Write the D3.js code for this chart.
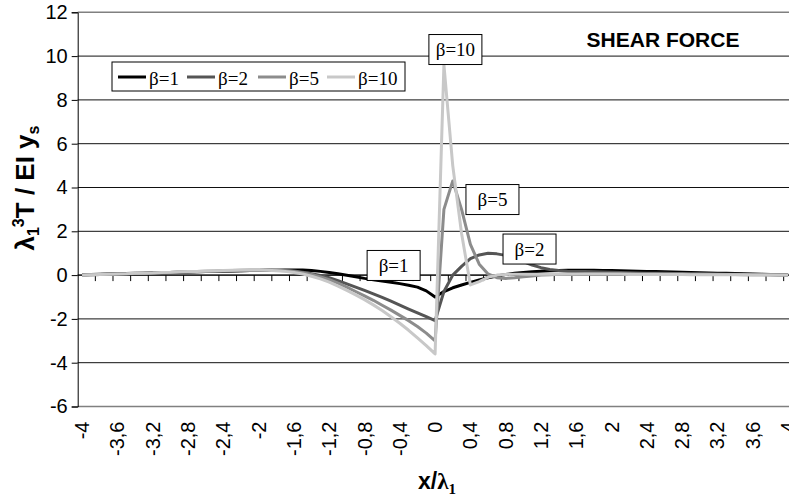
<!DOCTYPE html>
<html lang="en">
<head>
<meta charset="UTF-8">
<title>Shear force</title>
<style>
  body{margin:0;background:#fff;}
  svg{display:block;}
  text{font-family:Arial, "Liberation Sans", sans-serif;}
  .serif{font-family:"Times New Roman", "Liberation Serif", serif;}
</style>
</head>
<body>
<script src="https://cdn.jsdelivr.net/npm/d3@7"></script>
<script>
// categories x/lambda1 (Excel category axis)
const categories = [
  -4.0,-3.9,-3.8,-3.7,-3.6,-3.5,-3.4,-3.3,-3.2,-3.1,
  -3.0,-2.9,-2.8,-2.7,-2.6,-2.5,-2.4,-2.3,-2.2,-2.1,
  -2.0,-1.9,-1.8,-1.7,-1.6,-1.5,-1.4,-1.3,-1.2,-1.1,
  -1.0,-0.9,-0.8,-0.7,-0.6,-0.5,-0.4,-0.3,-0.2,-0.1,
  0.0,
  0.1,0.2,0.3,0.4,0.5,0.6,0.7,0.8,0.9,1.0,
  1.1,1.2,1.3,1.4,1.5,1.6,1.7,1.8,1.9,2.0,
  2.1,2.2,2.3,2.4,2.5,2.6,2.7,2.8,2.9,3.0,
  3.1,3.2,3.3,3.4,3.5,3.6,3.7,3.8,3.9,4.0
];
const tickLabels = ["-4","-3,6","-3,2","-2,8","-2,4","-2","-1,6","-1,2","-0,8","-0,4","0",
                    "0,4","0,8","1,2","1,6","2","2,4","2,8","3,2","3,6","4"];
const yTicks = [-6,-4,-2,0,2,4,6,8,10,12];
const yTickLabels = ["-6","-4","-2","0","2","4","6","8","10","12"];

const beta1 = [
  0.02,0.03,0.04,0.05,0.06,0.07,0.08,0.09,0.10,0.11,
  0.12,0.13,0.14,0.15,0.16,0.17,0.18,0.19,0.20,0.21,
  0.21,0.22,0.22,0.23,
  0.23,0.23,0.21,0.17,0.12,0.06,-0.01,-0.08,-0.15,-0.21,-0.27,-0.33,-0.39,-0.46,-0.55,-0.72,-1.0,
  -0.75,-0.58,-0.45,-0.33,-0.22,-0.12,-0.04,0.03,0.08,0.12,
  0.15,0.18,0.20,0.21,0.22,0.22,0.22,0.22,0.21,0.21,
  0.20,0.19,0.18,0.17,0.16,0.15,0.14,0.13,0.12,0.11,
  0.10,0.09,0.08,0.07,0.06,0.05,0.04,0.03,0.02,0.02
];
const beta2 = [
  0.01,0.02,0.03,0.04,0.05,0.06,0.07,0.08,0.09,0.10,
  0.11,0.12,0.14,0.15,0.16,0.17,0.18,0.19,0.20,0.21,
  0.21,0.22,0.22,0.21,
  0.19,0.13,0.06,-0.02,-0.12,-0.25,-0.40,-0.55,-0.70,-0.86,-1.02,-1.19,-1.37,-1.55,-1.73,-1.90,-2.08,
  -0.75,0.0,0.40,0.75,0.92,1.0,0.97,0.90,0.78,0.62,
  0.46,0.34,0.26,0.21,0.18,0.17,0.16,0.15,0.14,0.13,
  0.12,0.11,0.10,0.09,0.09,0.08,0.07,0.07,0.06,0.06,
  0.05,0.05,0.04,0.04,0.03,0.03,0.03,0.02,0.02,0.02
];
const beta5 = [
  0.01,0.02,0.03,0.04,0.05,0.06,0.07,0.08,0.10,0.11,
  0.12,0.14,0.15,0.16,0.18,0.19,0.20,0.21,0.22,0.23,
  0.23,0.23,0.22,0.20,
  0.16,0.11,0.03,-0.08,-0.21,-0.37,-0.55,-0.75,-0.95,-1.15,-1.38,-1.60,-1.84,-2.08,-2.35,-2.65,-3.0,
  3.0,4.3,3.0,1.4,0.5,0.05,-0.12,-0.15,-0.12,-0.08,
  -0.04,0.0,0.02,0.04,0.05,0.06,0.07,0.07,0.07,0.07,
  0.07,0.07,0.06,0.06,0.06,0.05,0.05,0.05,0.04,0.04,
  0.04,0.03,0.03,0.03,0.02,0.02,0.02,0.02,0.01,0.01
];
const beta10 = [
  0.01,0.02,0.03,0.04,0.05,0.06,0.08,0.09,0.10,0.12,
  0.13,0.15,0.16,0.17,0.19,0.20,0.21,0.22,0.23,0.23,
  0.23,0.22,0.20,0.17,
  0.12,0.05,-0.05,-0.17,-0.32,-0.50,-0.70,-0.90,-1.12,-1.36,-1.62,-1.90,-2.20,-2.52,-2.87,-3.22,-3.6,
  9.6,5.0,1.9,-0.45,-0.3,-0.1,0.0,0.03,0.04,0.04,
  0.04,0.04,0.04,0.04,0.04,0.04,0.04,0.04,0.04,0.04,
  0.04,0.03,0.03,0.03,0.03,0.03,0.03,0.03,0.02,0.02,
  0.02,0.02,0.02,0.02,0.02,0.01,0.01,0.01,0.01,0.01
];

const seriesNames = ["β=1","β=2","β=5","β=10"];
const seriesValues = [beta1, beta2, beta5, beta10];
const seriesColors = ["#000000","#555555","#8c8c8c","#c8c8c8"];
// data label anchors (category value, y value) for each curve
const labelAnchors = [[-0.47,0.44],[1.07,1.19],[0.65,3.45],[0.23,10.3]];

const width = 789, height = 497;
const plotLeft = 77.7, plotTop = 12.3, plotBottom = 406.5, plotRight = 792.5;

const svg = d3.select('body').append('svg')
    .attr('width', width)
    .attr('height', height);

const x = d3.scaleBand()
    .domain(categories.map(String))
    .range([plotLeft, plotRight])
    .padding(0);
const bw = x.bandwidth();
const cx = c => x(String(c)) + bw / 2;

const y = d3.scaleLinear().domain([-6, 12]).range([plotBottom, plotTop]);

// gridlines
svg.append('g').selectAll('line')
    .data(yTicks.filter(v => v > -6 && v < 12))
    .enter().append('line')
      .attr('x1', plotLeft).attr('x2', plotRight)
      .attr('y1', d => y(d)).attr('y2', d => y(d))
      .attr('stroke', '#111').attr('stroke-width', 1);

// plot border top/bottom
svg.append('g').selectAll('line')
    .data([12, -6])
    .enter().append('line')
      .attr('x1', plotLeft).attr('x2', plotRight)
      .attr('y1', d => y(d)).attr('y2', d => y(d))
      .attr('stroke', '#808080').attr('stroke-width', 1.5);

// y axis
const yAxis = svg.append('g')
    .attr('transform', `translate(${plotLeft},0)`)
    .call(d3.axisLeft(y).tickValues(yTicks).tickSize(6).tickPadding(4)
        .tickFormat((d, i) => yTickLabels[i]));
yAxis.select('.domain').attr('stroke', '#000');
yAxis.selectAll('text').style('font-size', '20px').attr('fill', '#000')
    .style('font-family', 'Arial, "Liberation Sans", sans-serif');

// x axis line at y = 0 with ticks below every two categories
svg.append('line')
    .attr('x1', plotLeft).attr('x2', plotRight)
    .attr('y1', y(0)).attr('y2', y(0))
    .attr('stroke', '#000');
svg.append('g').selectAll('line')
    .data(categories.filter((c, i) => i % 2 === 0 && i > 0))
    .enter().append('line')
      .attr('x1', d => x(String(d))).attr('x2', d => x(String(d)))
      .attr('y1', y(0)).attr('y2', y(0) + 6)
      .attr('stroke', '#000');

// x tick labels, rotated
svg.append('g').selectAll('text')
    .data(categories.filter((c, i) => i % 4 === 0))
    .enter().append('text')
      .attr('transform', d => `translate(${cx(d)},${plotBottom + 15}) rotate(-90)`)
      .attr('dy', '0.35em')
      .attr('text-anchor', 'end')
      .style('font-size', '20px')
      .text((d, i) => tickLabels[i]);

// curves
const line = d3.line()
    .x((d, i) => cx(categories[i]))
    .y(d => y(d));

svg.append('g').selectAll('path')
    .data(seriesValues)
    .enter().append('path')
      .attr('d', d => line(d))
      .attr('fill', 'none')
      .attr('stroke', (d, i) => seriesColors[i])
      .attr('stroke-width', 3)
      .attr('stroke-linejoin', 'round');

// data label boxes
const lab = svg.append('g').selectAll('g')
    .data(labelAnchors)
    .enter().append('g')
      .attr('transform', d => {
          const px = cx(categories[0]) + (d[0] - categories[0]) / 0.1 * bw;
          return `translate(${px},${y(d[1])})`;
      });
lab.append('rect')
    .attr('x', -26.5)
    .attr('y', -15)
    .attr('width', 53)
    .attr('height', 30)
    .attr('fill', '#fff')
    .attr('stroke', '#000');
lab.append('text')
    .attr('class', 'serif')
    .attr('text-anchor', 'middle')
    .attr('dy', '0.35em')
    .style('font-size', '19px')
    .text((d, i) => seriesNames[i]);

// legend
const legend = svg.append('g').attr('transform', 'translate(112,62)');
legend.append('rect')
    .attr('width', 293).attr('height', 29)
    .attr('fill', '#fff').attr('stroke', '#000');
const legendX = [6, 75, 146, 215];
const item = legend.selectAll('g.item')
    .data(seriesNames)
    .enter().append('g')
      .attr('class', 'item')
      .attr('transform', (d, i) => `translate(${legendX[i]},0)`);
item.append('line')
    .attr('x1', 0).attr('x2', 28)
    .attr('y1', 15).attr('y2', 15)
    .attr('stroke', (d, i) => seriesColors[i])
    .attr('stroke-width', 3);
item.append('text')
    .attr('class', 'serif')
    .attr('x', 31).attr('y', 23)
    .style('font-size', '19px')
    .text(d => d);

// title
svg.append('text')
    .attr('x', 663).attr('y', 47)
    .attr('text-anchor', 'middle')
    .style('font-size', '21px').style('font-weight', 'bold')
    .text('SHEAR FORCE');

// y axis title
const yt = svg.append('text')
    .attr('transform', 'translate(34,188) rotate(-90)')
    .attr('text-anchor', 'middle')
    .style('font-size', '26px').style('font-weight', 'bold');
yt.append('tspan').text('λ');
yt.append('tspan').attr('dy', 5).style('font-size', '16px').text('1');
yt.append('tspan').attr('dy', -15).style('font-size', '16px').text('3');
yt.append('tspan').attr('dy', 10).text('T / EI y');
yt.append('tspan').attr('dy', 5).style('font-size', '16px').text('s');

// x axis title
const xt = svg.append('text')
    .attr('x', 437).attr('y', 489)
    .attr('text-anchor', 'middle')
    .style('font-size', '23px').style('font-weight', 'bold');
xt.append('tspan').text('x/');
xt.append('tspan').attr('class', 'serif').text('λ');
xt.append('tspan').attr('class', 'serif').attr('dy', 5).style('font-size', '15px').text('1');
</script>
</body>
</html>
